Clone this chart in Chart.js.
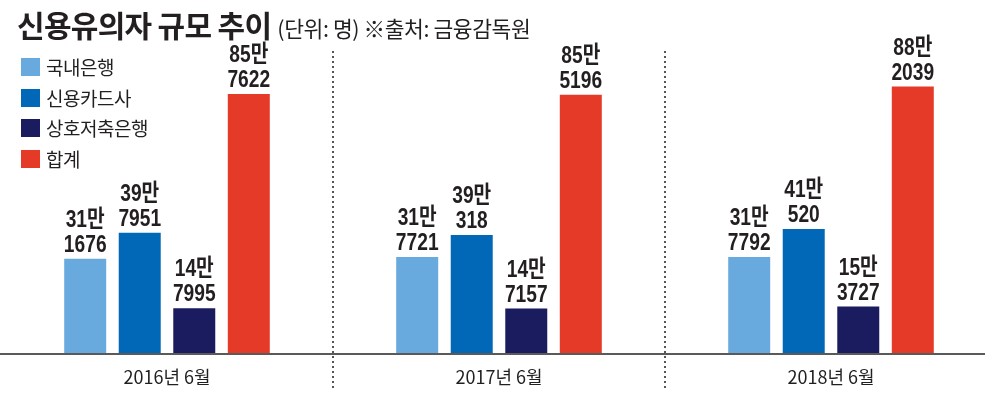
<!DOCTYPE html>
<html>
<head>
<meta charset="utf-8">
<script src="https://cdn.jsdelivr.net/npm/chart.js@4.4.1/dist/chart.umd.min.js"></script>
<style>
  html, body { margin: 0; padding: 0; background: #fff; }
  #wrap { position: relative; width: 1000px; height: 399px; overflow: hidden; }
  #chart { position: absolute; left: 0; top: 0; }
  #title { position: absolute; left: 17px; top: 2px; white-space: nowrap; color: #231f20;
           font-family: 'Noto Sans CJK KR', sans-serif; }
  #title .main { font-size: 30px; font-weight: 700; letter-spacing: -0.7px; }
  #title .sub { font-size: 21.5px; font-weight: 400; margin-left: 6px; letter-spacing: -0.4px; }
  #legend { position: absolute; left: 21px; top: 58px; font-family: 'Noto Sans CJK KR', sans-serif; color: #231f20; }
  #legend .item { height: 30.5px; display: flex; align-items: flex-start; }
  #legend .sw { width: 19px; height: 18px; margin-right: 6px; }
  #legend .tx { font-size: 19px; line-height: 18px; letter-spacing: -0.5px; }
</style>
</head>
<body>
<div id="wrap">
  <canvas id="chart" width="1000" height="399"></canvas>
  <div id="title"><span class="main">신용유의자 규모 추이</span><span class="sub">(단위: 명) ※출처: 금융감독원</span></div>
  <div id="legend"></div>
</div>
<script>
// ---- data ----
const categories = ['2016년 6월', '2017년 6월', '2018년 6월'];
const seriesNames = ['국내은행', '신용카드사', '상호저축은행', '합계'];
const domesticBanks = [311676, 317721, 317792];
const cardCompanies = [397951, 390318, 410520];
const savingsBanks = [147995, 147157, 153727];
const totals = [857622, 855196, 882039];
const seriesColors = ['#68aadd', '#0068b6', '#1b1c5f', '#e63a29'];

const seriesValues = [domesticBanks, cardCompanies, savingsBanks, totals];

// legend (HTML)
const legendEl = document.getElementById('legend');
seriesNames.forEach((n, i) => {
  const it = document.createElement('div');
  it.className = 'item';
  it.innerHTML = '<div class="sw" style="background:' + seriesColors[i] + '"></div><div class="tx">' + n + '</div>';
  legendEl.appendChild(it);
});

function fmtTop(v) { return Math.floor(v / 10000) + '만'; }
function fmtBottom(v) { return String(v % 10000); }

const labelPlugin = {
  id: 'barLabels',
  afterDatasetsDraw(chart) {
    const ctx = chart.ctx;
    chart.data.datasets.forEach((ds, di) => {
      const meta = chart.getDatasetMeta(di);
      meta.data.forEach((bar, i) => {
        const v = ds.data[i];
        ctx.save();
        ctx.translate(bar.x, bar.y);
        ctx.scale(0.8, 1);
        ctx.fillStyle = '#231f20';
        ctx.textAlign = 'center';
        ctx.textBaseline = 'alphabetic';
        ctx.font = "bold 24px 'Liberation Sans', 'Noto Sans CJK KR', sans-serif";
        ctx.fillText(fmtBottom(v), 0, -7);
        ctx.fillText(fmtTop(v), 0, -32);
        ctx.restore();
      });
    });
  }
};

const framePlugin = {
  id: 'frame',
  afterDraw(chart) {
    const ctx = chart.ctx;
    const xs = chart.scales.x;
    const area = chart.chartArea;
    ctx.save();
    // baseline
    ctx.strokeStyle = '#5a5a5a';
    ctx.lineWidth = 2;
    ctx.beginPath();
    ctx.moveTo(0, area.bottom + 1);
    ctx.lineTo(985, area.bottom + 1);
    ctx.stroke();
    // dotted separators between categories
    ctx.strokeStyle = '#555';
    ctx.lineWidth = 2;
    ctx.setLineDash([2, 3]);
    for (let i = 0; i < categories.length - 1; i++) {
      const bx = Math.round((xs.getPixelForValue(i) + xs.getPixelForValue(i + 1)) / 2);
      ctx.beginPath();
      ctx.moveTo(bx, area.top);
      ctx.lineTo(bx, 389);
      ctx.stroke();
    }
    ctx.restore();
  }
};

new Chart(document.getElementById('chart'), {
  type: 'bar',
  data: {
    labels: categories,
    datasets: seriesNames.map((n, i) => ({
      label: n,
      data: seriesValues[i],
      backgroundColor: seriesColors[i],
      borderWidth: 0,
      categoryPercentage: 0.657,
      barPercentage: 0.77
    }))
  },
  options: {
    responsive: false,
    animation: false,
    layout: { padding: { top: 51, left: 1, right: 3, bottom: 0 } },
    plugins: { legend: { display: false }, tooltip: { enabled: false }, title: { display: false } },
    scales: {
      x: {
        grid: { display: false, drawTicks: false },
        border: { display: false },
        afterFit(scale) { scale.height = 46; },
        ticks: {
          padding: 13,
          color: '#231f20',
          font: { family: "'Noto Sans CJK KR', sans-serif", size: 18 }
        }
      },
      y: {
        display: false,
        min: 0,
        max: 1000000
      }
    }
  },
  plugins: [labelPlugin, framePlugin]
});
</script>
</body>
</html>
